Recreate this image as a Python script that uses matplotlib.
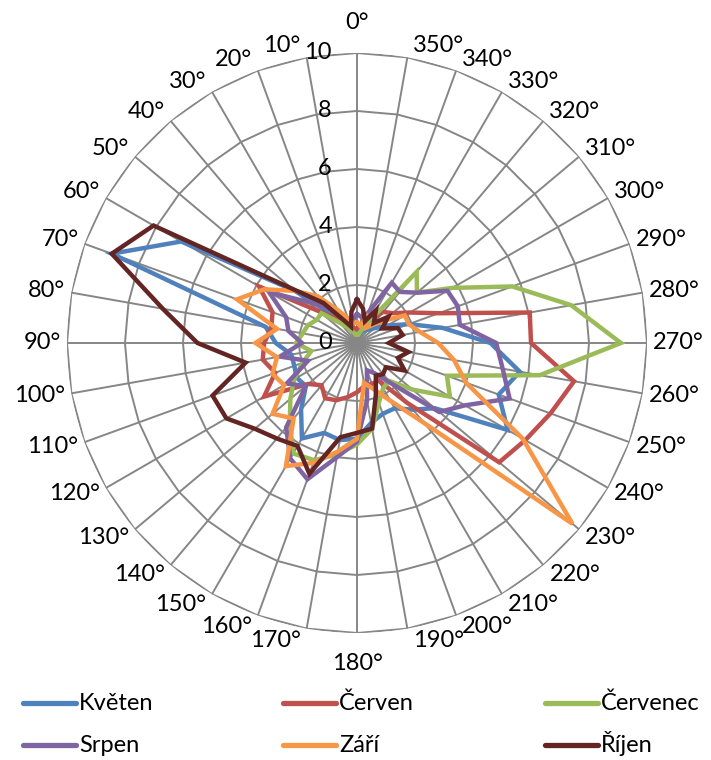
import numpy as np
import matplotlib.pyplot as plt

plt.rcParams['font.family'] = ['Lato', 'DejaVu Sans']

# categories: wind direction in degrees, 0..350
angles_deg = list(range(0, 360, 10))
angle_labels = [f"{a}°" for a in angles_deg]
r_ticks = [0, 2, 4, 6, 8, 10]

series_names = ['Květen', 'Červen', 'Červenec', 'Srpen', 'Září', 'Říjen']
series_colors = ['#4F81BD', '#C0504D', '#9BBB59', '#8064A2', '#F79646', '#632523']

kveten = [0.3, 0.3, 0.4, 0.6, 1.2, 2.8, 7.0, 9.0, 3.2, 2.8, 2.3, 2.3,
          2.4, 2.3, 3.0, 3.8, 3.3, 3.4, 3.3, 2.8, 2.6, 2.6, 3.0, 3.5,
          6.0, 5.2, 5.7, 4.6, 3.0, 1.9, 1.2, 0.8, 0.6, 0.5, 0.4, 0.3]
cerven = [0.5, 0.5, 0.6, 0.8, 1.1, 1.7, 3.9, 3.1, 3.0, 3.2, 3.3, 3.0,
          3.7, 2.2, 1.9, 2.2, 2.1, 1.9, 1.7, 1.5, 1.5, 1.5, 2.7, 6.4,
          6.7, 7.1, 7.6, 6.0, 6.05, 3.0, 2.1, 1.6, 1.4, 0.9, 0.7, 0.6]
cervenec = [0.3, 0.3, 0.4, 0.6, 0.9, 1.6, 1.6, 1.8, 1.9, 2.1, 1.6, 2.0,
            2.5, 3.0, 3.6, 4.4, 4.3, 3.9, 3.5, 3.0, 2.2, 1.8, 1.7, 2.5,
            3.7, 3.3, 6.4, 9.1, 7.5, 5.7, 3.8, 2.7, 3.2, 0.9, 0.5, 0.3]
srpen = [1.0, 0.8, 0.9, 1.1, 1.6, 2.2, 3.5, 2.6, 2.4, 1.9, 2.7, 1.8,
         2.8, 2.3, 3.8, 4.6, 5.0, 4.0, 3.4, 2.0, 1.0, 1.2, 1.8, 3.7,
         4.3, 5.6, 5.1, 4.8, 3.6, 3.7, 3.6, 2.7, 2.3, 2.4, 1.1, 0.9]
zari = [0.7, 0.7, 0.9, 1.3, 2.1, 2.8, 3.7, 4.4, 2.8, 3.5, 2.8, 3.1,
        2.9, 3.8, 3.4, 4.9, 4.4, 3.8, 3.3, 1.4, 1.7, 2.3, 3.6, 9.7,
        6.6, 4.0, 3.4, 2.8, 2.2, 1.9, 1.9, 1.2, 0.8, 0.6, 0.9, 0.6]
rijen = [1.5, 1.1, 0.6, 0.9, 1.8, 2.9, 8.1, 9.0, 6.8, 5.5, 3.9, 5.3,
         5.2, 4.6, 4.3, 4.1, 4.8, 3.3, 3.1, 3.0, 1.9, 1.3, 1.4, 1.3,
         1.9, 1.5, 1.8, 1.1, 1.6, 1.5, 1.0, 1.4, 0.9, 1.3, 0.8, 1.2]

series_values = [kveten, cerven, cervenec, srpen, zari, rijen]

theta = np.deg2rad(angles_deg)
theta_closed = np.append(theta, theta[0])

W, H = 711, 760
fig = plt.figure(figsize=(W / 100, H / 100), dpi=100)
ax = fig.add_axes([0.0942, 0.1671, 0.8158, 0.7632], projection='polar')
ax.set_theta_zero_location('N')
ax.set_theta_direction(1)
ax.set_ylim(0, 10)
ax.grid(False)
ax.set_xticks([])
ax.set_yticks([])
ax.spines['polar'].set_visible(False)
ax.patch.set_alpha(0)

grid_color = '#868686'
# polygonal grid (straight lines between spokes, like Excel)
for t in theta:
    ax.plot([t, t], [0, 10], color=grid_color, lw=1.4, zorder=1)
for r in r_ticks[1:]:
    ax.plot(theta_closed, [r] * len(theta_closed), color=grid_color, lw=1.4, zorder=1)

# value labels along the 0° spoke
for r in r_ticks:
    ax.annotate(str(r), (0, r), xytext=(-18, 0), textcoords='offset points',
                ha='right', va='center', fontsize=17, color='black')

# category labels (offsets in points; 1 px = 0.72 pt)
for t, lab in zip(theta, angle_labels):
    ux, uy = -np.sin(t), np.cos(t)
    if abs(ux) < 0.1:
        ha, dx, dy = 'center', 0, uy * 30 * 0.72
    else:
        ha = 'left' if ux > 0 else 'right'
        dx, dy = np.sign(ux) * 6 * 0.72, uy * 12 * 0.72
    ax.annotate(lab, (t, 10), xytext=(dx, dy), textcoords='offset points',
                ha=ha, va='center', fontsize=17, color='black',
                annotation_clip=False)

for vals, col, name in zip(series_values, series_colors, series_names):
    v = np.append(vals, vals[0])
    ax.plot(theta_closed, v, color=col, lw=3.2, label=name, zorder=3,
            solid_joinstyle='miter', clip_on=False)

# legend, laid out in rows like Excel (3 columns, 2 rows)
col_x = [23, 283, 545]
row_y = [703, 745]
for i, (name, col) in enumerate(zip(series_names, series_colors)):
    x0 = col_x[i % 3]
    y0 = row_y[i // 3]
    fig.add_artist(plt.Line2D([x0 / W, (x0 + 53) / W], [1 - y0 / H, 1 - y0 / H],
                              color=col, lw=3.8, solid_capstyle='round',
                              transform=fig.transFigure))
    fig.text((x0 + 56) / W, 1 - (y0 + 7) / H, name, ha='left', va='baseline',
             fontsize=17, color='black')

fig.savefig('out.png', dpi=100)
